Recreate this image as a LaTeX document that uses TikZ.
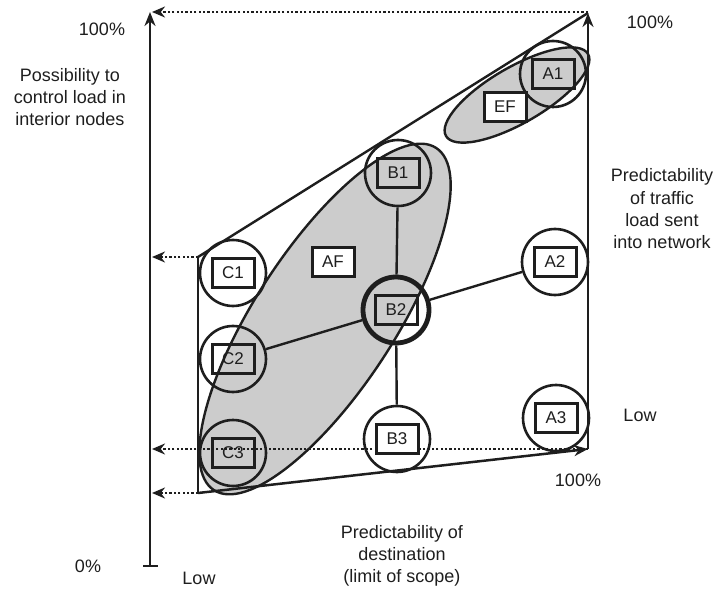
\documentclass[tikz,border=0pt]{standalone}
\usepackage{fontspec}
\setmainfont{Liberation Sans}
\usetikzlibrary{arrows.meta}
\definecolor{shade}{RGB}{204,204,204}
\definecolor{ink}{RGB}{30,30,30}
\begin{document}
\begin{tikzpicture}[x=1pt,y=1pt,
  lbl/.style={font=\fontsize{18}{22.3}\selectfont, text=ink, align=center, inner sep=0},
  circ/.style={circle, draw=ink, line width=2.6pt, minimum size=66pt, inner sep=0},
  boldcirc/.style={circ, line width=4.8pt},
  tagbox/.style={draw=ink, line width=3pt, minimum width=42pt, minimum height=29pt, inner sep=0, font=\fontsize{17}{18}\selectfont, text=ink},
  whitebox/.style={tagbox, fill=white},
  solid line/.style={draw=ink, line width=2.4pt},
  axis/.style={draw=ink, line width=2.5pt, -{Stealth[length=14pt,width=11pt]}},
  dotarrow/.style={draw=ink, line width=2.4pt, dash pattern=on 2.2pt off 2.2pt, -{Stealth[length=13pt,width=11pt]}},
  region/.style={fill=shade, draw=ink, line width=2.4pt}
]
\useasboundingbox (0,0) rectangle (715,590);

% key corner coordinates
\coordinate (axbot) at (150,24);
\coordinate (axtop) at (150,578);
\coordinate (tickL) at (143,24);
\coordinate (tickR) at (158,24);
\coordinate (tl) at (198,333);
\coordinate (bl) at (198,97);
\coordinate (br) at (588,141);
\coordinate (tr) at (588,577);
\coordinate (trd) at (588,578);
\coordinate (ltop) at (152,578);
\coordinate (l333) at (152,333);
\coordinate (l141) at (152,141);
\coordinate (l97) at (152,97);

% shaded regions
\draw[region] (325,271) ellipse[x radius=204, y radius=70, rotate=57];
\draw[region] (517,495) ellipse[x radius=82, y radius=28, rotate=30];

% dotted projections
\draw[dotarrow] (trd) -- (ltop);
\draw[dotarrow] (tl) -- (l333);
\draw[dotarrow] (br) -- (l141);
\draw[dotarrow] (bl) -- (l97);

% left axis
\draw[axis] (axbot) -- (axtop);
\draw[draw=ink, line width=2.5pt] (tickL) -- (tickR);

% frame
\draw[solid line] (tl) -- (tr);
\draw[solid line] (tl) -- (bl);
\draw[axis] (bl) -- (br);
\draw[axis] (br) -- (tr);

% circles
\node[circ] (cA1) at (553,516) {};
\node[circ] (cB1) at (398,417) {};
\node[circ] (cC1) at (233,317) {};
\node[circ] (cA2) at (555,328) {};
\node[boldcirc] (cB2) at (396,280) {};
\node[circ] (cC2) at (233,231) {};
\node[circ] (cC3) at (233,137) {};
\node[circ] (cB3) at (397,151) {};
\node[circ] (cA3) at (556,172) {};

% connectors
\draw[solid line] (cB1) -- (cB2);
\draw[solid line] (cB2) -- (cB3);
\draw[solid line] (cB2) -- (cC2);
\draw[solid line] (cB2) -- (cA2);

% boxes
\node[tagbox] (bA1) at (cA1) {A1};
\node[whitebox] (bEF) at (505,483) {EF};
\node[tagbox] (bB1) at (cB1) {B1};
\node[whitebox] (bC1) at (cC1) {C1};
\node[whitebox] (bAF) at (333,328) {AF};
\node[whitebox] (bA2) at (cA2) {A2};
\node[tagbox] (bB2) at (cB2) {B2};
\node[tagbox] (bC2) at (cC2) {C2};
\node[tagbox] (bC3) at (cC3) {C3};
\node[whitebox] (bB3) at (cB3) {B3};
\node[whitebox] (bA3) at (cA3) {A3};

% labels
\node[lbl] (t100a) at (102,561) {100\%};
\node[lbl] (tposs) at (70,493) {Possibility to\\control load in\\interior nodes};
\node[lbl] (t0) at (88,24) {0\%};
\node[lbl] (tlow1) at (199,12) {Low};
\node[lbl] (tdest) at (402,34) {Predictability of\\destination\\(limit of scope)};
\node[lbl] (t100b) at (650,568) {100\%};
\node[lbl] (ttraf) at (662,381) {Predictability\\of traffic\\load sent\\into network};
\node[lbl] (tlow2) at (640,175) {Low};
\node[lbl] (t100c) at (578,110) {100\%};
\end{tikzpicture}
\end{document}
